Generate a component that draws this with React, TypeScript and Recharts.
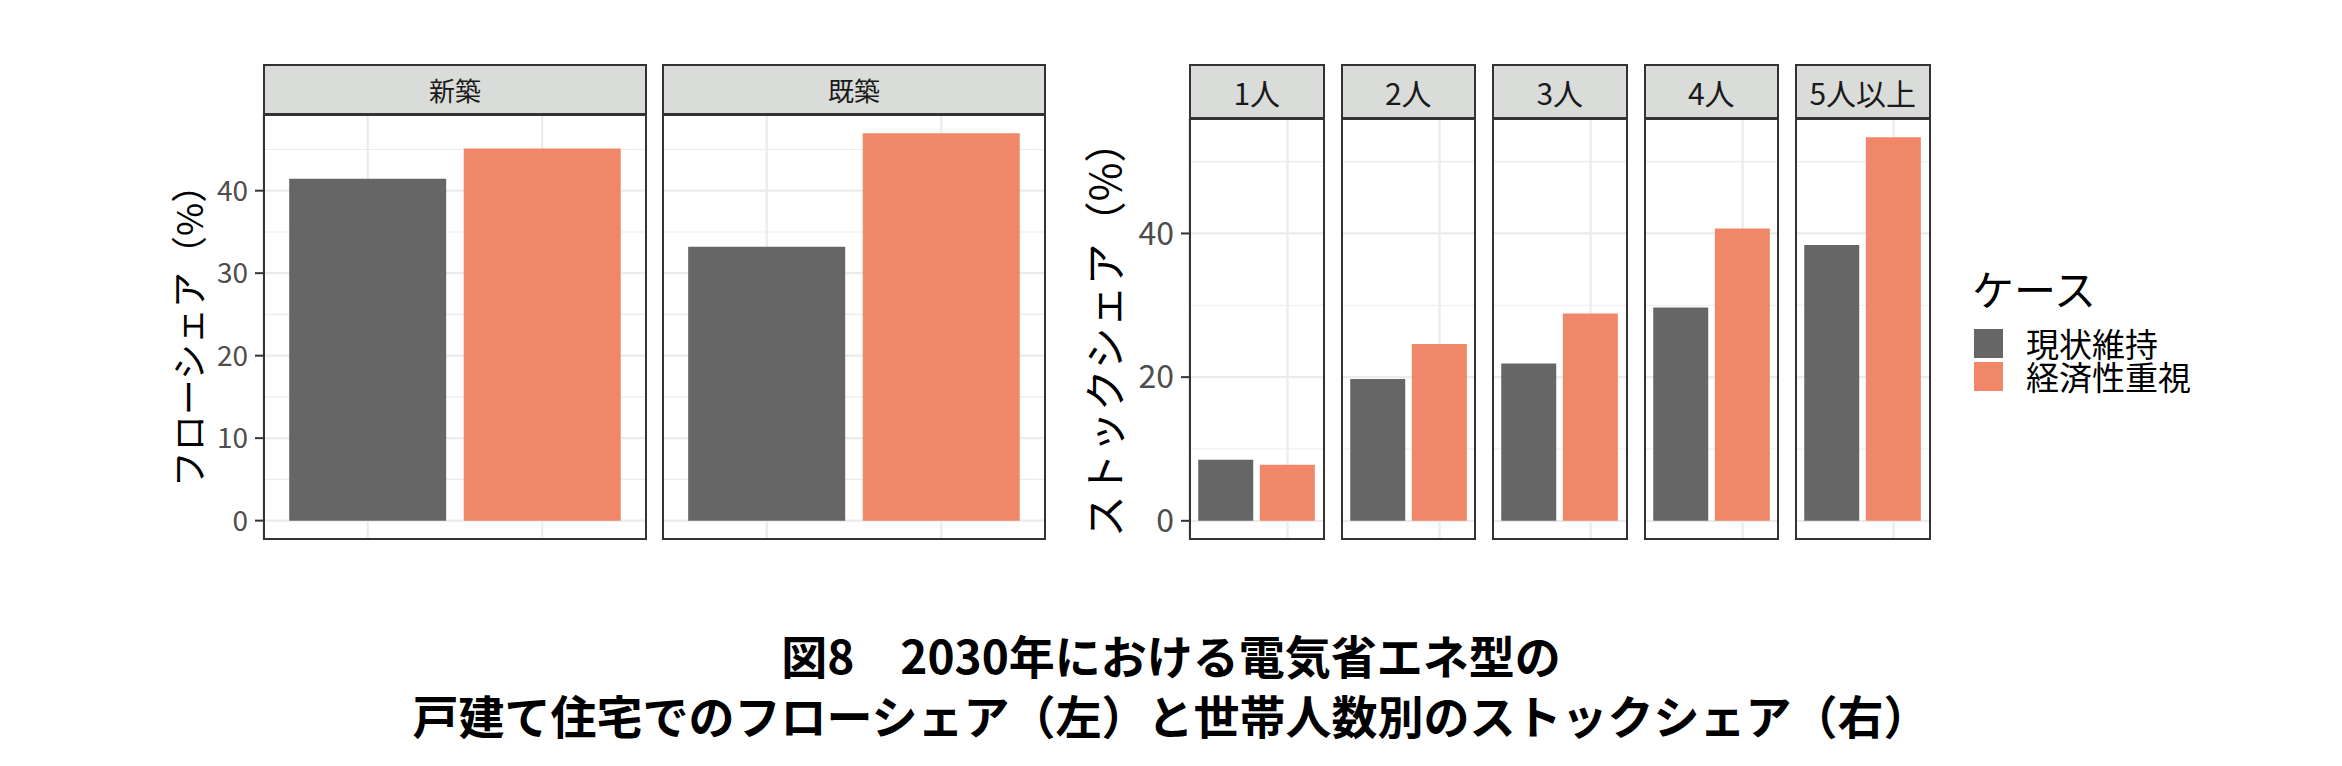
import React from "react";
import { BarChart, Bar, Cell, XAxis, YAxis, CartesianGrid } from "recharts";

const FONT = '"Noto Sans CJK JP", "Noto Sans", sans-serif';

// ケース (fill)
const CASES = ["現状維持", "経済性重視"];
const CASE_COLORS = ["#666666", "#F08768"];

// 左: フローシェア
const FLOW_PANELS = ["新築", "既築"];
const FLOW_STATUS_QUO = [41.45, 33.2];
const FLOW_ECONOMY = [45.1, 46.95];
const FLOW_TICKS = [0, 10, 20, 30, 40];
const FLOW_MINOR = [5, 15, 25, 35, 45];

// 右: 世帯人数別ストックシェア
const STOCK_PANELS = ["1人", "2人", "3人", "4人", "5人以上"];
const STOCK_STATUS_QUO = [8.5, 19.75, 21.9, 29.7, 38.4];
const STOCK_ECONOMY = [7.8, 24.6, 28.85, 40.7, 53.4];
const STOCK_TICKS = [0, 20, 40];
const STOCK_MINOR = [10, 30, 50];

const TITLE_LINES = [
  "図8　2030年における電気省エネ型の",
  "戸建て住宅でのフローシェア（左）と世帯人数別のストックシェア（右）",
];

type Row = { case: string; value: number };

const rowsFor = (i: number, sq: number[], ec: number[]): Row[] =>
  CASES.map((c, k) => ({ case: c, value: (k === 0 ? sq : ec)[i] }));

// ggplot風の5%拡張
const expandDomain = (vals: number[]): [number, number] => {
  const max = Math.max(...vals);
  return [-0.05 * max, 1.05 * max];
};

type PanelProps = {
  left: number;
  top: number;
  width: number;
  height: number;
  stripTop: number;
  label: string;
  stripFont: number;
  rows: Row[];
  domain: [number, number];
  ticks: number[];
  minor: number[];
  axisWidth?: number;
  tickFont?: number;
};

function Panel(p: PanelProps) {
  const axisW = p.axisWidth ?? 0;
  const pad = p.width / 22;
  return (
    <>
      <div
        style={{
          position: "absolute",
          left: p.left,
          top: p.stripTop,
          width: p.width,
          height: p.top - p.stripTop + 1,
          boxSizing: "border-box",
          background: "#D9DCD9",
          border: "2px solid #333333",
          display: "flex",
          alignItems: "center",
          justifyContent: "center",
          fontSize: p.stripFont,
          color: "#1A1A1A",
          whiteSpace: "nowrap",
        }}
      >
        {p.label}
      </div>
      <div style={{ position: "absolute", left: p.left - axisW, top: p.top }}>
        <BarChart
          width={p.width + axisW}
          height={p.height}
          data={p.rows}
          margin={{ top: 0, right: 0, bottom: 0, left: 0 }}
          barCategoryGap="5%"
        >
          <CartesianGrid
            horizontalValues={p.minor}
            vertical={false}
            stroke="#EBEBEB"
            strokeWidth={1.1}
          />
          <CartesianGrid
            horizontalValues={p.ticks}
            stroke="#EBEBEB"
            strokeWidth={2.2}
          />
          <XAxis dataKey="case" hide padding={{ left: pad, right: pad }} />
          <YAxis
            type="number"
            domain={p.domain}
            ticks={p.ticks}
            allowDataOverflow
            interval={0}
            hide={!axisW}
            width={axisW}
            axisLine={false}
            tickLine={{ stroke: "#333333", strokeWidth: 2 }}
            tickSize={8}
            tickMargin={7}
            tick={{ fill: "#4D4D4D", fontSize: p.tickFont, fontFamily: FONT }}
          />
          <Bar dataKey="value" isAnimationActive={false}>
            {p.rows.map((r, k) => (
              <Cell key={r.case} fill={CASE_COLORS[k]} />
            ))}
          </Bar>
        </BarChart>
      </div>
      <div
        style={{
          position: "absolute",
          left: p.left,
          top: p.top,
          width: p.width,
          height: p.height,
          boxSizing: "border-box",
          border: "2px solid #333333",
          pointerEvents: "none",
        }}
      />
    </>
  );
}

function AxisTitle({ text, x, y, size }: { text: string; x: number; y: number; size: number }) {
  return (
    <div
      style={{
        position: "absolute",
        left: x,
        top: y,
        transform: "translate(-50%, -50%) rotate(-90deg)",
        fontSize: size,
        whiteSpace: "nowrap",
        color: "#000",
        lineHeight: 1,
      }}
    >
      {text}
    </div>
  );
}

export default function App() {
  const flowDomain = expandDomain([...FLOW_STATUS_QUO, ...FLOW_ECONOMY]);
  const stockDomain = expandDomain([...STOCK_STATUS_QUO, ...STOCK_ECONOMY]);

  return (
    <div
      style={{
        position: "absolute",
        left: 0,
        top: 0,
        width: 2342,
        height: 766,
        background: "#fff",
        overflow: "hidden",
        fontFamily: FONT,
      }}
    >
      {FLOW_PANELS.map((name, i) => (
        <Panel
          key={name}
          left={263 + i * 399}
          top={114}
          width={384}
          height={426}
          stripTop={64}
          label={name}
          stripFont={26}
          rows={rowsFor(i, FLOW_STATUS_QUO, FLOW_ECONOMY)}
          domain={flowDomain}
          ticks={FLOW_TICKS}
          minor={FLOW_MINOR}
          axisWidth={i === 0 ? 70 : 0}
          tickFont={28}
        />
      ))}
      <AxisTitle text="フローシェア（%）" x={187} y={327} size={36} />

      {STOCK_PANELS.map((name, i) => (
        <Panel
          key={name}
          left={1189 + i * 151.5}
          top={118}
          width={135.5}
          height={422}
          stripTop={64}
          label={name}
          stripFont={30}
          rows={rowsFor(i, STOCK_STATUS_QUO, STOCK_ECONOMY)}
          domain={stockDomain}
          ticks={STOCK_TICKS}
          minor={STOCK_MINOR}
          axisWidth={i === 0 ? 70 : 0}
          tickFont={32}
        />
      ))}
      <AxisTitle text="ストックシェア（%）" x={1103} y={329} size={42} />

      {/* 凡例 */}
      <div
        style={{
          position: "absolute",
          left: 1972,
          top: 263,
          height: 50,
          lineHeight: "50px",
          fontSize: 42,
          color: "#000",
          whiteSpace: "nowrap",
        }}
      >
        ケース
      </div>
      {CASES.map((c, k) => (
        <div
          key={c}
          style={{
            position: "absolute",
            left: 1974,
            top: 329 + k * 33,
            width: 29,
            height: 29,
            background: CASE_COLORS[k],
          }}
        />
      ))}
      <div
        style={{
          position: "absolute",
          left: 2026,
          top: 327,
          lineHeight: "33px",
          fontSize: 33,
          color: "#000",
          whiteSpace: "pre",
        }}
      >
        {CASES.join("\n")}
      </div>

      {/* タイトル */}
      <div
        style={{
          position: "absolute",
          left: 0,
          top: 624,
          width: 2342,
          textAlign: "center",
          fontSize: 46,
          lineHeight: "60px",
          fontWeight: 700,
          color: "#000",
        }}
      >
        {TITLE_LINES.map((t) => (
          <div key={t}>{t}</div>
        ))}
      </div>
    </div>
  );
}
